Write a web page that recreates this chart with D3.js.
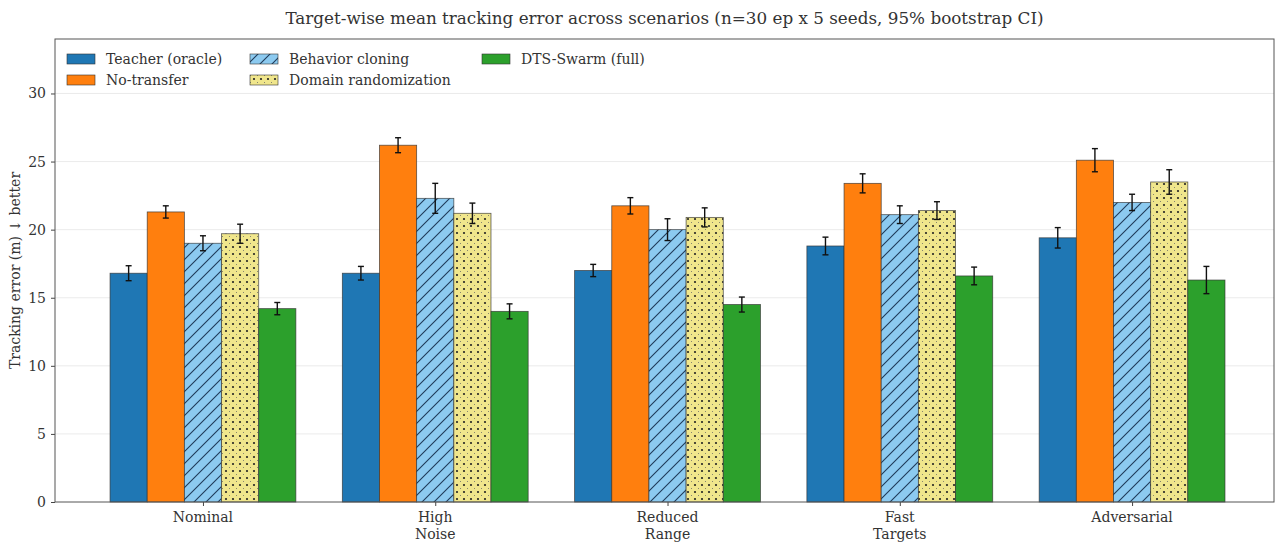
<!DOCTYPE html>
<html><head><meta charset="utf-8">
<script src="https://cdn.jsdelivr.net/npm/d3@7"></script>
<style>body{margin:0;background:#fff}svg text{font-family:"DejaVu Serif",serif;fill:#333}</style>
</head><body><svg id="c" width="1280" height="542"></svg>
<script>
const categories = [["Nominal"],["High","Noise"],["Reduced","Range"],["Fast","Targets"],["Adversarial"]];
const seriesNames = ["Teacher (oracle)","No-transfer","Behavior cloning","Domain randomization","DTS-Swarm (full)"];
const teacher  = [16.8, 16.8, 17.0, 18.8, 19.4];
const noTrans  = [21.3, 26.2, 21.75, 23.4, 25.1];
const bc       = [19.0, 22.3, 20.0, 21.1, 22.0];
const dr       = [19.7, 21.2, 20.9, 21.4, 23.5];
const dts      = [14.2, 14.0, 14.5, 16.6, 16.3];
const teacherCI = [0.55, 0.5, 0.45, 0.65, 0.75];
const noTransCI = [0.45, 0.55, 0.6, 0.7, 0.85];
const bcCI      = [0.55, 1.1, 0.8, 0.65, 0.6];
const drCI      = [0.7, 0.75, 0.7, 0.65, 0.9];
const dtsCI     = [0.45, 0.55, 0.55, 0.65, 1.0];
const yTicks = [0,5,10,15,20,25,30];

const values = [teacher, noTrans, bc, dr, dts];
const cis = [teacherCI, noTransCI, bcCI, drCI, dtsCI];
const fills = ["#1f77b4","#ff7f0e","url(#hatch)","url(#dots)","#2ca02c"];

const svg = d3.select("#c");
const L=55, R=1274, T=39, B=502;
const x = d3.scaleLinear().domain([-0.637, 4.611]).range([L,R]);
const y = d3.scaleLinear().domain([0,34]).range([B,T]);
const bw = 0.16;

const defs = svg.append("defs");
const h = defs.append("pattern").attr("id","hatch").attr("patternUnits","userSpaceOnUse").attr("width",12).attr("height",12);
h.append("rect").attr("width",12).attr("height",12).attr("fill","#8ccaf0");
h.append("path").attr("d","M-3,3 L3,-3 M0,12 L12,0 M9,15 L15,9").attr("stroke","#1f3b5a").attr("stroke-width",1.1);
const dp = defs.append("pattern").attr("id","dots").attr("patternUnits","userSpaceOnUse").attr("width",7).attr("height",7);
dp.append("rect").attr("width",7).attr("height",7).attr("fill","#f0e68c");
dp.append("circle").attr("cx",2).attr("cy",2).attr("r",1.1).attr("fill","#222");
dp.append("circle").attr("cx",5.5).attr("cy",5.5).attr("r",0.5).attr("fill","#666");

// grid
svg.append("g").selectAll("line").data(yTicks.slice(1)).join("line")
  .attr("x1",L).attr("x2",R).attr("y1",d=>y(d)).attr("y2",d=>y(d))
  .attr("stroke","#e6e6e6").attr("stroke-width",0.8);

// bars
values.forEach((vals,s)=>{
  const g = svg.append("g");
  g.selectAll("rect").data(vals).join("rect")
    .attr("x",(d,i)=>x(i+(s-2)*bw-bw/2)).attr("width",x(bw)-x(0))
    .attr("y",d=>y(d)).attr("height",d=>y(0)-y(d))
    .attr("fill",fills[s]).attr("stroke","#333").attr("stroke-width",0.8).attr("stroke-opacity",0.8);
  const e = svg.append("g").attr("stroke","#111").attr("stroke-width",1.4);
  vals.forEach((v,i)=>{
    const cx = x(i+(s-2)*bw), lo=y(v-cis[s][i]), hi=y(v+cis[s][i]);
    e.append("line").attr("x1",cx).attr("x2",cx).attr("y1",lo).attr("y2",hi);
    e.append("line").attr("x1",cx-3).attr("x2",cx+3).attr("y1",lo).attr("y2",lo);
    e.append("line").attr("x1",cx-3).attr("x2",cx+3).attr("y1",hi).attr("y2",hi);
  });
});

// axes
const ya = svg.append("g").attr("transform",`translate(${L},0)`).call(d3.axisLeft(y).tickValues(yTicks).tickSize(4).tickPadding(5));
ya.selectAll("text").attr("font-size",14).style("font-family","DejaVu Serif");
const xa = svg.append("g").attr("transform",`translate(0,${B})`).call(d3.axisBottom(x).tickValues(d3.range(5)).tickSize(4).tickFormat(""));
[ya,xa].forEach(a=>{a.select(".domain").remove();a.selectAll("line").attr("stroke","#444");});
categories.forEach((c,i)=>{
  const t = svg.append("text").attr("x",x(i)).attr("y",B+20).attr("text-anchor","middle").attr("font-size",14);
  c.forEach((ln,k)=>t.append("tspan").attr("x",x(i)).attr("dy",k?17:0).text(ln));
});
svg.append("rect").attr("x",L).attr("y",T).attr("width",R-L).attr("height",B-T).attr("fill","none").attr("stroke","#555").attr("stroke-width",1);

svg.append("text").attr("transform",`translate(20,${(T+B)/2}) rotate(-90)`).attr("text-anchor","middle").attr("font-size",14)
  .text("Tracking error (m)  \u2193 better");
svg.append("text").attr("x",(L+R)/2).attr("y",24).attr("text-anchor","middle").attr("font-size",16.8)
  .text("Target-wise mean tracking error across scenarios (n=30 ep x 5 seeds, 95% bootstrap CI)");

// legend
const legPos = [[67,54],[67,75],[250,54],[250,75],[482,54]];
const legIdx = [0,1,2,3,4];
legIdx.forEach((s,k)=>{
  const [lx,ly]=legPos[k];
  svg.append("rect").attr("x",lx).attr("y",ly).attr("width",28).attr("height",10).attr("fill",fills[s]).attr("stroke","#333").attr("stroke-width",0.6);
  svg.append("text").attr("x",lx+39).attr("y",ly+10).attr("font-size",14).text(seriesNames[s]);
});
</script></body></html>
